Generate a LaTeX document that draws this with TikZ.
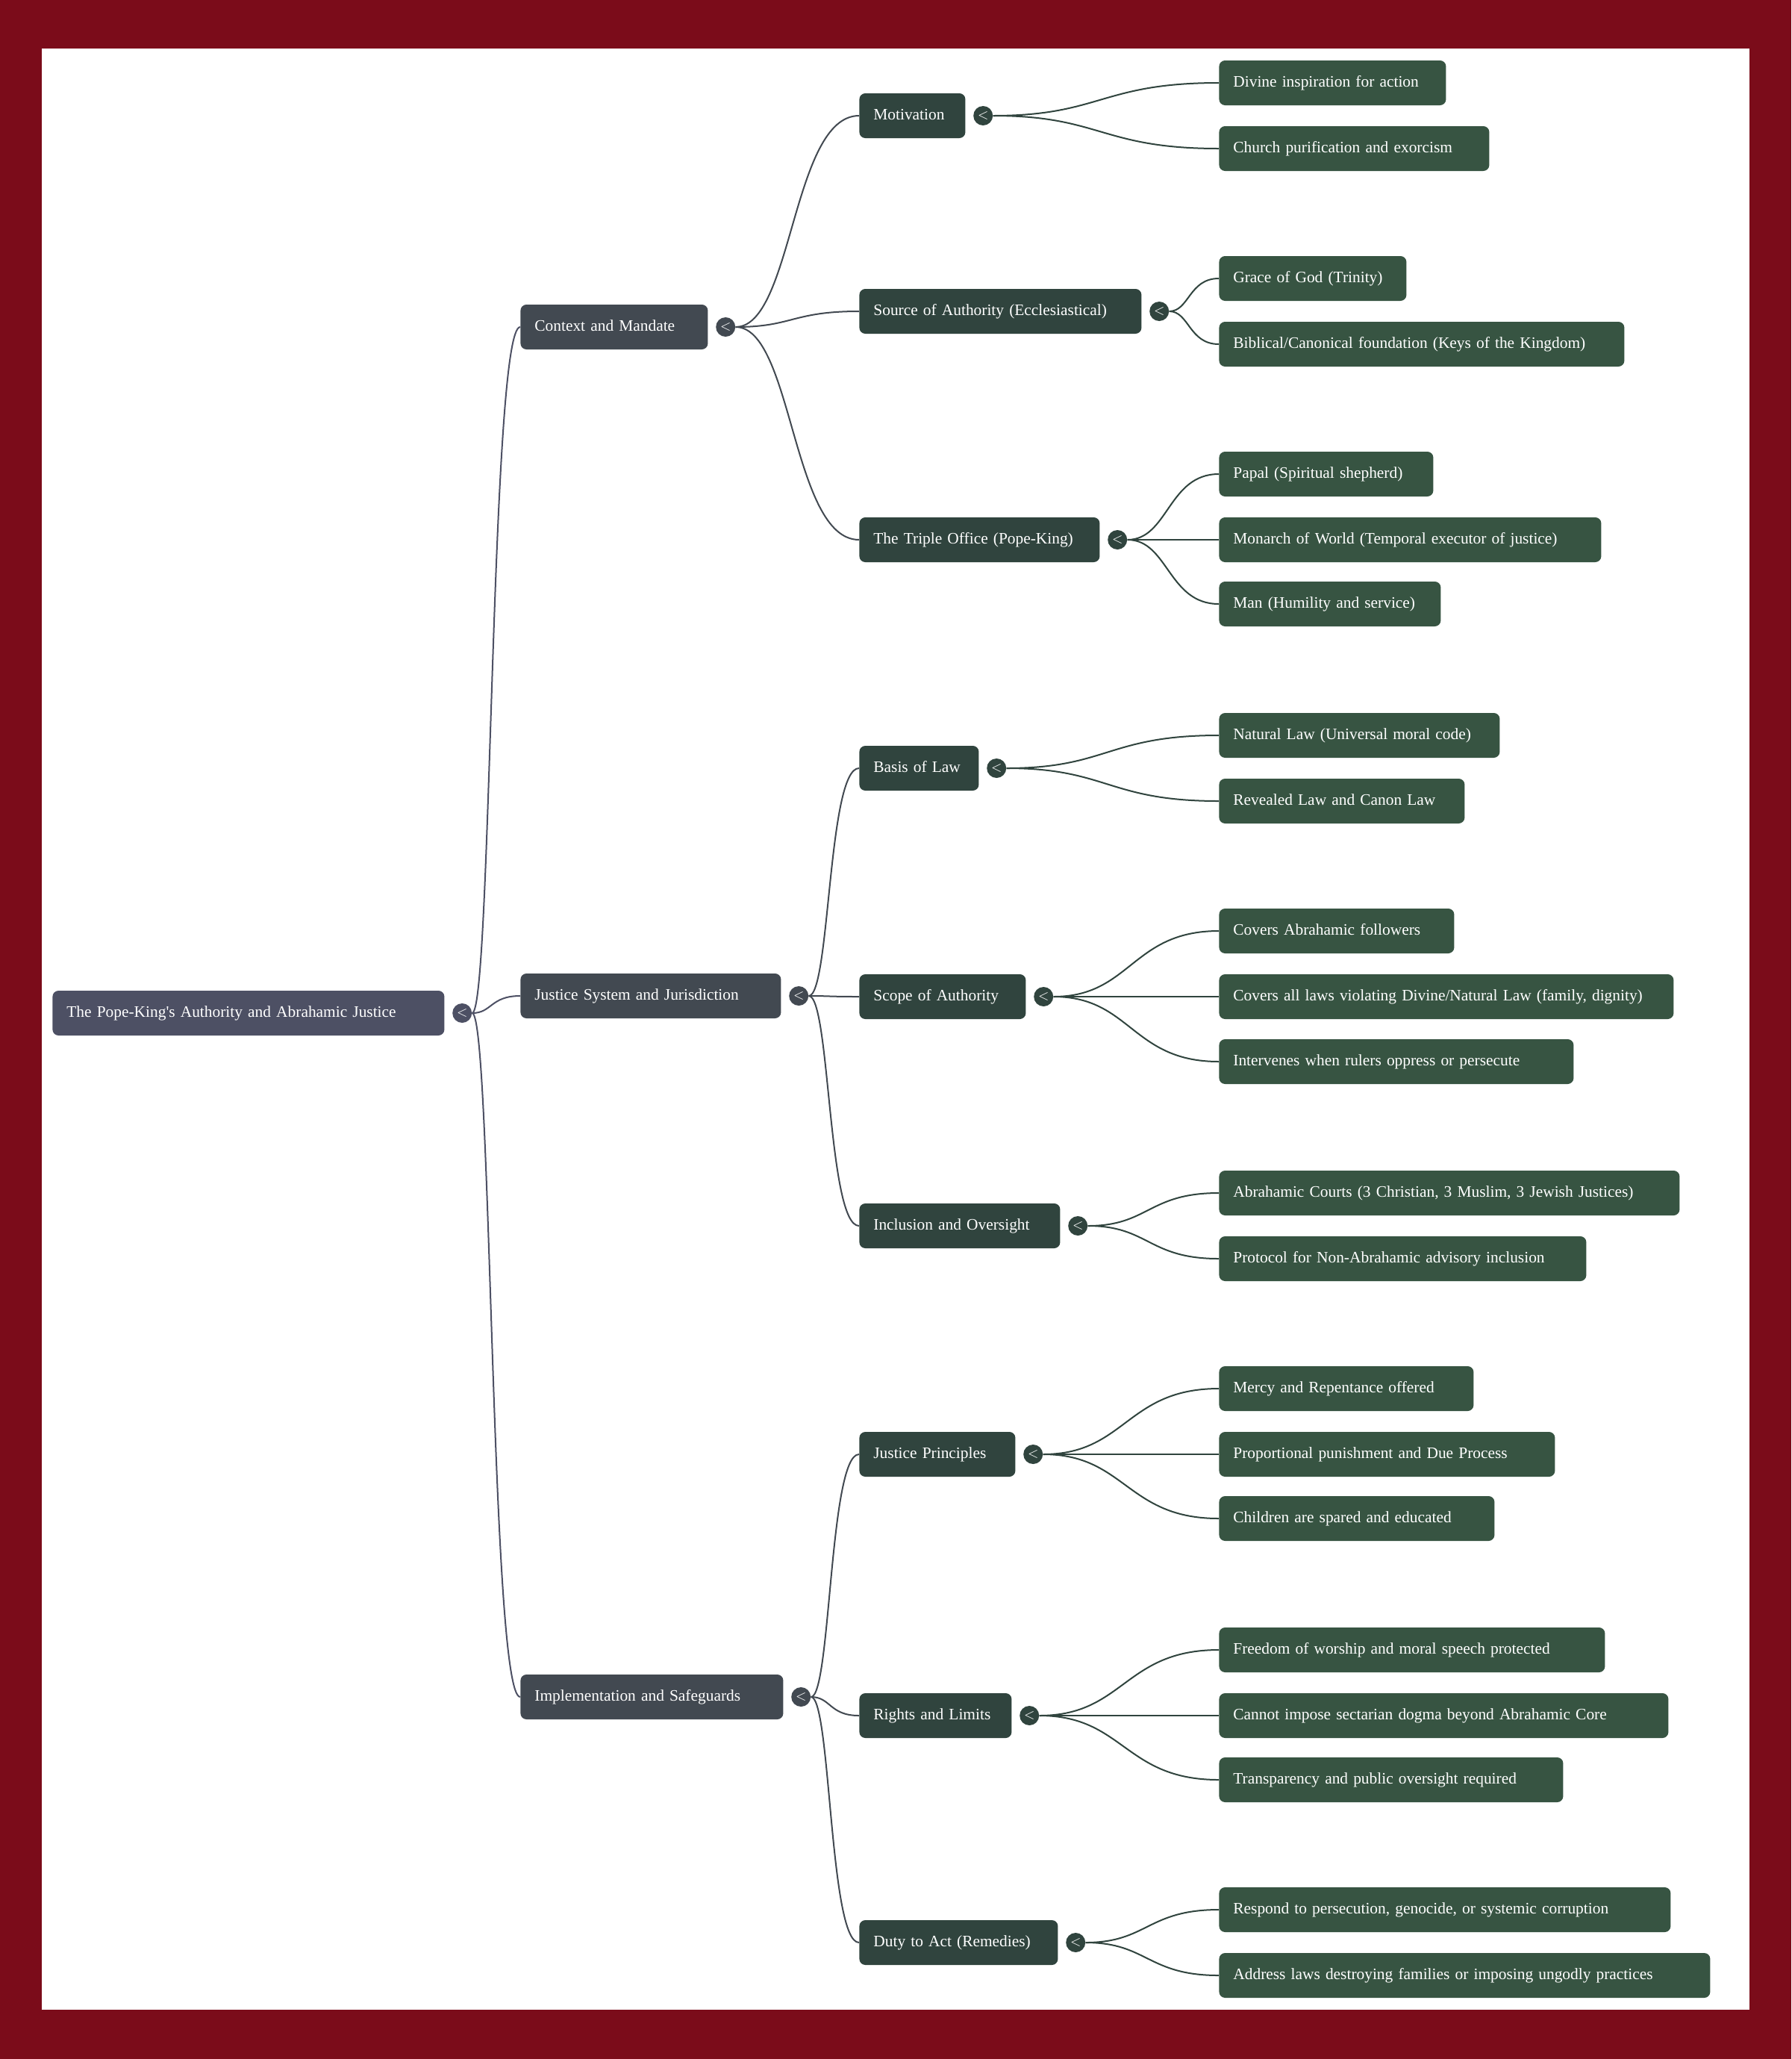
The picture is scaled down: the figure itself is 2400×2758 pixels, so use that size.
\documentclass[tikz,border=0pt]{standalone}
\usepackage{fontspec}
\setmainfont{Liberation Serif}
\usetikzlibrary{positioning}
\definecolor{framered}{HTML}{7B0C1A}
\definecolor{rootc}{HTML}{4D5064}
\definecolor{topicc}{HTML}{424951}
\definecolor{subc}{HTML}{30443E}
\definecolor{leafc}{HTML}{375442}
\tikzset{
  base/.style={rectangle,rounded corners=4pt,anchor=west,text=white,font=\fontsize{10.7}{13}\selectfont,
    minimum height=30pt,inner xsep=9.5pt,inner ysep=0pt,align=left,text height=7.6pt,text depth=2.4pt},
  rootbox/.style={base,fill=rootc},
  topicbox/.style={base,fill=topicc},
  subbox/.style={base,fill=subc},
  leafbox/.style={base,fill=leafc},
  tog/.style={circle,inner sep=0pt,minimum size=13pt,text=white,font=\fontsize{9}{9}\selectfont,fill=#1},
  e0/.style={draw=rootc,line width=1pt},
  e1/.style={draw=topicc,line width=1pt},
  e2/.style={draw=subc,line width=1pt}
}
\newcommand{\twig}[4]{\draw[#1] (#2) .. controls +(#4,0) and +(-#4,0) .. (#3.west);}

\begin{document}
\begin{tikzpicture}[x=0.5pt,y=-0.5pt]
% frame
\fill[framered] (0,0) rectangle (2400,2758);
\fill[white] (56,65) rectangle (2344,2692);
\useasboundingbox (0,0) rectangle (2400,2758);

% root and topics
\node[rootbox,text width=243.5pt] (pk) at (70,1357) {The Pope-King\textquotesingle s Authority and Abrahamic Justice};
\node[topicbox,text width=106.5pt] (ctx) at (697,438) {Context and Mandate};
\node[topicbox,text width=155.5pt] (jus) at (697,1334) {Justice System and Jurisdiction};
\node[topicbox,text width=157pt] (imp) at (697,2273) {Implementation and Safeguards};

% sub topics
\node[subbox,text width=52pt] (mot) at (1151,155) {Motivation};
\node[subbox,text width=170pt] (src) at (1151,417) {Source of Authority (Ecclesiastical)};
\node[subbox,text width=142pt] (tri) at (1151,723) {The Triple Office (Pope-King)};
\node[subbox,text width=61pt] (bas) at (1151,1029) {Basis of Law};
\node[subbox,text width=92.5pt] (sco) at (1151,1335) {Scope of Authority};
\node[subbox,text width=115.5pt] (inc) at (1151,1642) {Inclusion and Oversight};
\node[subbox,text width=85.5pt] (jpr) at (1151,1948) {Justice Principles};
\node[subbox,text width=83pt] (rig) at (1151,2298) {Rights and Limits};
\node[subbox,text width=114pt] (dut) at (1151,2602) {Duty to Act (Remedies)};

% leaves
\node[leafbox,text width=133pt] (mot1) at (1633,111) {Divine inspiration for action};
\node[leafbox,text width=162pt] (mot2) at (1633,199) {Church purification and exorcism};
\node[leafbox,text width=106.5pt] (src1) at (1633,373) {Grace of God (Trinity)};
\node[leafbox,text width=252.5pt] (src2) at (1633,461) {Biblical/Canonical foundation (Keys of the Kingdom)};
\node[leafbox,text width=124.5pt] (tri1) at (1633,635) {Papal (Spiritual shepherd)};
\node[leafbox,text width=237pt] (tri2) at (1633,723) {Monarch of World (Temporal executor of justice)};
\node[leafbox,text width=129.5pt] (tri3) at (1633,809) {Man (Humility and service)};
\node[leafbox,text width=169pt] (bas1) at (1633,985) {Natural Law (Universal moral code)};
\node[leafbox,text width=145.5pt] (bas2) at (1633,1073) {Revealed Law and Canon Law};
\node[leafbox,text width=138.5pt] (sco1) at (1633,1247) {Covers Abrahamic followers};
\node[leafbox,text width=285.5pt] (sco2) at (1633,1335) {Covers all laws violating Divine/Natural Law (family, dignity)};
\node[leafbox,text width=218.5pt] (sco3) at (1633,1422) {Intervenes when rulers oppress or persecute};
\node[leafbox,text width=289.5pt] (inc1) at (1633,1598) {Abrahamic Courts (3 Christian, 3 Muslim, 3 Jewish Justices)};
\node[leafbox,text width=227pt] (inc2) at (1633,1686) {Protocol for Non-Abrahamic advisory inclusion};
\node[leafbox,text width=151.5pt] (jpr1) at (1633,1860) {Mercy and Repentance offered};
\node[leafbox,text width=206pt] (jpr2) at (1633,1948) {Proportional punishment and Due Process};
\node[leafbox,text width=165.5pt] (jpr3) at (1633,2034) {Children are spared and educated};
\node[leafbox,text width=239.5pt] (rig1) at (1633,2210) {Freedom of worship and moral speech protected};
\node[leafbox,text width=282pt] (rig2) at (1633,2298) {Cannot impose sectarian dogma beyond Abrahamic Core};
\node[leafbox,text width=211.5pt] (rig3) at (1633,2384) {Transparency and public oversight required};
\node[leafbox,text width=283.5pt] (dut1) at (1633,2558) {Respond to persecution, genocide, or systemic corruption};
\node[leafbox,text width=310pt] (dut2) at (1633,2646) {Address laws destroying families or imposing ungodly practices};

% toggles
\node[tog=rootc, right=5pt of pk] (pkT) {$<$};
\node[tog=topicc, right=5pt of ctx] (ctxT) {$<$};
\node[tog=topicc, right=5pt of jus] (jusT) {$<$};
\node[tog=topicc, right=5pt of imp] (impT) {$<$};
\node[tog=subc, right=5pt of mot] (motT) {$<$};
\node[tog=subc, right=5pt of src] (srcT) {$<$};
\node[tog=subc, right=5pt of tri] (triT) {$<$};
\node[tog=subc, right=5pt of bas] (basT) {$<$};
\node[tog=subc, right=5pt of sco] (scoT) {$<$};
\node[tog=subc, right=5pt of inc] (incT) {$<$};
\node[tog=subc, right=5pt of jpr] (jprT) {$<$};
\node[tog=subc, right=5pt of rig] (rigT) {$<$};
\node[tog=subc, right=5pt of dut] (dutT) {$<$};

% connectors
\twig{e0}{pkT}{ctx}{40}
\twig{e0}{pkT}{jus}{40}
\twig{e0}{pkT}{imp}{40}
\twig{e1}{ctxT}{mot}{90}
\twig{e1}{ctxT}{src}{90}
\twig{e1}{ctxT}{tri}{90}
\twig{e1}{jusT}{bas}{42}
\twig{e1}{jusT}{sco}{42}
\twig{e1}{jusT}{inc}{42}
\twig{e1}{impT}{jpr}{40}
\twig{e1}{impT}{rig}{40}
\twig{e1}{impT}{dut}{40}
\twig{e2}{motT}{mot1}{158}
\twig{e2}{motT}{mot2}{158}
\twig{e2}{srcT}{src1}{40}
\twig{e2}{srcT}{src2}{40}
\twig{e2}{triT}{tri1}{68}
\twig{e2}{triT}{tri2}{68}
\twig{e2}{triT}{tri3}{68}
\twig{e2}{basT}{bas1}{149}
\twig{e2}{basT}{bas2}{149}
\twig{e2}{scoT}{sco1}{117}
\twig{e2}{scoT}{sco2}{117}
\twig{e2}{scoT}{sco3}{117}
\twig{e2}{incT}{inc1}{95}
\twig{e2}{incT}{inc2}{95}
\twig{e2}{jprT}{jpr1}{124}
\twig{e2}{jprT}{jpr2}{124}
\twig{e2}{jprT}{jpr3}{124}
\twig{e2}{rigT}{rig1}{127}
\twig{e2}{rigT}{rig2}{127}
\twig{e2}{rigT}{rig3}{127}
\twig{e2}{dutT}{dut1}{96}
\twig{e2}{dutT}{dut2}{96}
\end{tikzpicture}
\end{document}
